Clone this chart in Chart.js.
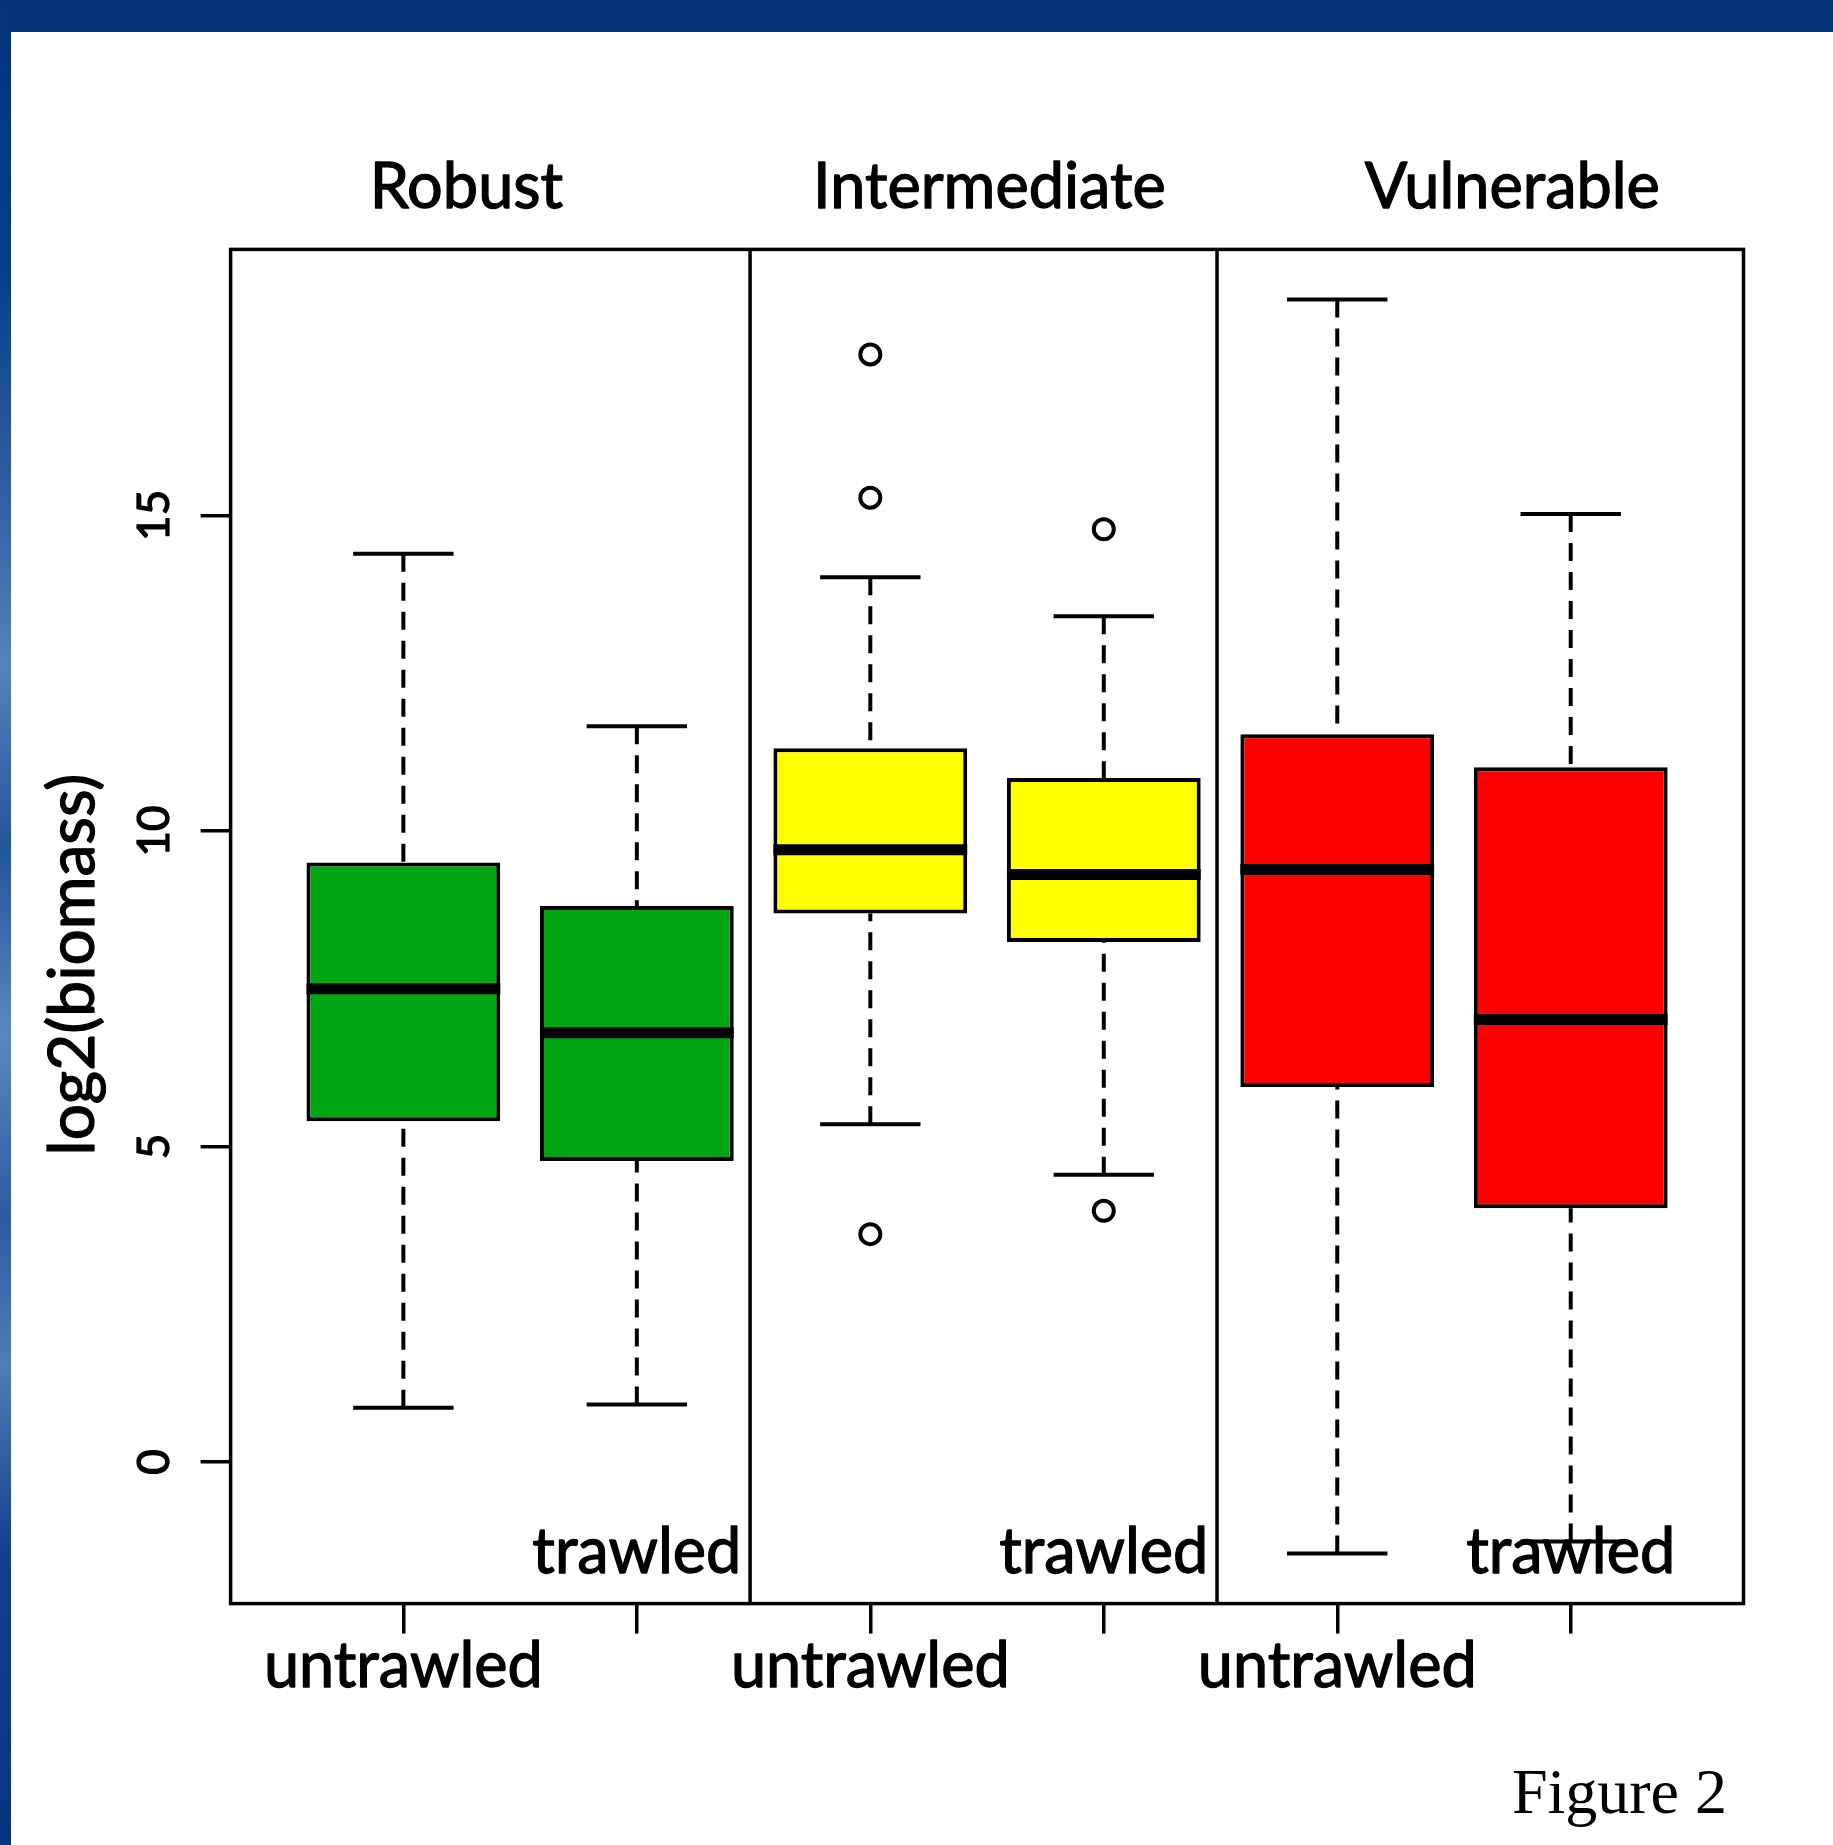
<!DOCTYPE html>
<html>
<head>
<meta charset="utf-8">
<title>Figure 2</title>
<script src="https://cdn.jsdelivr.net/npm/chart.js@4.4.1/dist/chart.umd.min.js"></script>
<style>
  html, body { margin: 0; padding: 0; background: #ffffff; width: 1833px; height: 1845px; overflow: hidden; }
  #topbar { position: absolute; left: 0; top: 0; width: 1833px; height: 32px; background: #04357a; }
  #leftbar { position: absolute; left: 0; top: 0; width: 11px; height: 1845px;
    background: linear-gradient(to bottom, #04357a 0%, #083c82 14%, #2c5d9f 26%, #5482bd 36%, #23559a 46%, #5a87c0 56%, #2b5ca0 66%, #4f7db8 74%, #153f8a 84%, #05367c 100%); }
  #wrap { position: absolute; left: 11px; top: 32px; width: 1822px; height: 1813px; }
  canvas { display: block; }
</style>
</head>
<body>
<div id="topbar"></div>
<div id="leftbar"></div>
<div id="wrap"><canvas id="c" width="1822" height="1813"></canvas></div>
<script>
// ---------------- data ----------------
const positions      = [1, 2, 3, 4, 5, 6];
const groupNames     = ['Robust', 'Intermediate', 'Vulnerable'];
const categoryLabels = ['untrawled', 'trawled', 'untrawled', 'trawled', 'untrawled', 'trawled'];
const whiskerLow     = [0.86, 0.91, 5.35, 4.55, -1.45, -1.26];
const q1             = [5.40, 4.77, 8.69, 8.24, 5.94, 4.02];
const medians        = [7.50, 6.80, 9.70, 9.31, 9.39, 7.01];
const q3             = [9.50, 8.81, 11.31, 10.84, 11.53, 11.01];
const whiskerHigh    = [14.39, 11.66, 14.02, 13.40, 18.42, 15.02];
const outlierX       = [3, 3, 3, 4, 4];
const outlierY       = [17.55, 15.28, 3.61, 14.78, 3.98];
const yTicks         = [0, 5, 10, 15];
const yTitle         = 'log2(biomass)';
const figureCaption  = 'Figure 2';

// ---------------- styles / layout ----------------
const boxColors = ['#00a513', '#00a513', '#ffff00', '#ffff00', '#ff0000', '#ff0000'];
const titleAt = [1.27, 3.51, 5.75];
const panelDividers = [2.485, 4.485];
const LABEL_FONT = '63px Lato';
const TICK_FONT = '44px Lato';

// R-style 4% axis extension
const allY = whiskerLow.concat(whiskerHigh, outlierY);
const yLo = Math.min(...allY), yHi = Math.max(...allY);
const yPad = (yHi - yLo) * 0.04;
const xLo = Math.min(...positions) - 0.5, xHi = Math.max(...positions) + 0.5;
const xPad = (xHi - xLo) * 0.04;

function drawText(ctx, s, x, y) {
  ctx.fillText(s, x, y);
  ctx.strokeText(s, x, y);
}

const boxPlugin = {
  id: 'boxExtras',
  beforeDatasetsDraw(chart) {
    const { ctx, chartArea: a, scales: { x, y } } = chart;
    ctx.save();
    ctx.fillStyle = '#000';
    ctx.strokeStyle = '#000';
    ctx.lineWidth = 1.3;
    ctx.lineJoin = 'round';
    // category labels
    ctx.font = LABEL_FONT;
    ctx.textAlign = 'center';
    ctx.textBaseline = 'alphabetic';
    positions.forEach((p, i) => {
      const px = x.getPixelForValue(p);
      if (i % 2 === 0) drawText(ctx, categoryLabels[i], px, a.bottom + 83.5);
      else drawText(ctx, categoryLabels[i], px, a.bottom - 30.5);
    });
    // group titles
    groupNames.forEach((g, i) => {
      drawText(ctx, g, x.getPixelForValue(titleAt[i]), a.top - 41.5);
    });
    // y tick labels (rotated)
    ctx.font = TICK_FONT;
    yTicks.forEach(v => {
      const py = y.getPixelForValue(v);
      ctx.save();
      ctx.translate(a.left - 62, py);
      ctx.rotate(-Math.PI / 2);
      ctx.textAlign = 'center';
      ctx.textBaseline = 'alphabetic';
      drawText(ctx, String(v), 0, 0);
      ctx.restore();
    });
    // y axis title
    ctx.font = '64px Lato';
    ctx.save();
    ctx.translate(a.left - 136.5, (a.top + a.bottom) / 2 + 38);
    ctx.rotate(-Math.PI / 2);
    ctx.textAlign = 'center';
    drawText(ctx, yTitle, 0, 0);
    ctx.restore();
    // caption
    ctx.font = '64px "Liberation Serif"';
    ctx.textAlign = 'right';
    ctx.fillText(figureCaption, 1716, 1781);
    ctx.restore();
  },
  afterDatasetsDraw(chart) {
    const { ctx, chartArea: a, scales: { x, y } } = chart;
    const bars = chart.getDatasetMeta(0).data;
    ctx.save();
    ctx.strokeStyle = '#000';
    // whiskers (dashed) and staples
    positions.forEach((p, i) => {
      const px = x.getPixelForValue(p);
      ctx.lineWidth = 4;
      ctx.lineCap = 'butt';
      ctx.setLineDash([18, 11]);
      ctx.beginPath();
      ctx.moveTo(px, y.getPixelForValue(whiskerHigh[i]));
      ctx.lineTo(px, y.getPixelForValue(q3[i]));
      ctx.moveTo(px, y.getPixelForValue(whiskerLow[i]));
      ctx.lineTo(px, y.getPixelForValue(q1[i]));
      ctx.stroke();
      ctx.setLineDash([]);
      const xl = x.getPixelForValue(p - 0.215), xr = x.getPixelForValue(p + 0.215);
      ctx.beginPath();
      ctx.moveTo(xl, y.getPixelForValue(whiskerHigh[i]));
      ctx.lineTo(xr, y.getPixelForValue(whiskerHigh[i]));
      ctx.moveTo(xl, y.getPixelForValue(whiskerLow[i]));
      ctx.lineTo(xr, y.getPixelForValue(whiskerLow[i]));
      ctx.stroke();
    });
    // medians
    positions.forEach((p, i) => {
      const b = bars[i];
      const half = b.width / 2;
      const py = y.getPixelForValue(medians[i]);
      ctx.lineWidth = 11;
      ctx.beginPath();
      ctx.moveTo(b.x - half, py);
      ctx.lineTo(b.x + half, py);
      ctx.stroke();
    });
    // frame and panel dividers
    ctx.lineWidth = 3.5;
    ctx.strokeRect(a.left, a.top, a.right - a.left, a.bottom - a.top);
    panelDividers.forEach(d => {
      const px = x.getPixelForValue(d);
      ctx.beginPath();
      ctx.moveTo(px, a.top);
      ctx.lineTo(px, a.bottom);
      ctx.stroke();
    });
    ctx.restore();
  }
};

new Chart(document.getElementById('c'), {
  data: {
    datasets: [
      {
        type: 'bar',
        data: positions.map((p, i) => ({ x: p, y: [q1[i], q3[i]] })),
        backgroundColor: boxColors,
        borderColor: '#000',
        borderWidth: 4,
        borderSkipped: false,
        barPercentage: 0.83,
        categoryPercentage: 1.0,
        order: 2
      },
      {
        type: 'scatter',
        data: outlierX.map((xv, i) => ({ x: xv, y: outlierY[i] })),
        pointStyle: 'circle',
        pointRadius: 10,
        pointBorderWidth: 4,
        pointBorderColor: '#000',
        pointBackgroundColor: 'rgba(0,0,0,0)',
        order: 1
      }
    ]
  },
  options: {
    responsive: false,
    animation: false,
    events: [],
    layout: { padding: { top: 217.4, right: 89.5, left: 0, bottom: 0 } },
    plugins: { legend: { display: false }, tooltip: { enabled: false }, title: { display: false } },
    scales: {
      x: {
        type: 'linear',
        min: xLo - xPad,
        max: xHi + xPad,
        offset: false,
        afterBuildTicks(scale) { scale.ticks = positions.map(v => ({ value: v })); },
        afterFit(scale) { scale.height = 241.4; },
        ticks: { display: false },
        border: { display: false },
        grid: { offset: false, drawOnChartArea: false, drawTicks: true, tickLength: 30, tickWidth: 3.5, lineWidth: 3.5, tickColor: '#000', color: '#000' }
      },
      y: {
        type: 'linear',
        min: yLo - yPad,
        max: yHi + yPad,
        afterBuildTicks(scale) { scale.ticks = yTicks.map(v => ({ value: v })); },
        afterFit(scale) { scale.width = 219.6; },
        ticks: { display: false },
        border: { display: false },
        grid: { drawOnChartArea: false, drawTicks: true, tickLength: 30, tickWidth: 3.5, lineWidth: 3.5, tickColor: '#000', color: '#000' }
      }
    }
  },
  plugins: [boxPlugin]
});
</script>
</body>
</html>
